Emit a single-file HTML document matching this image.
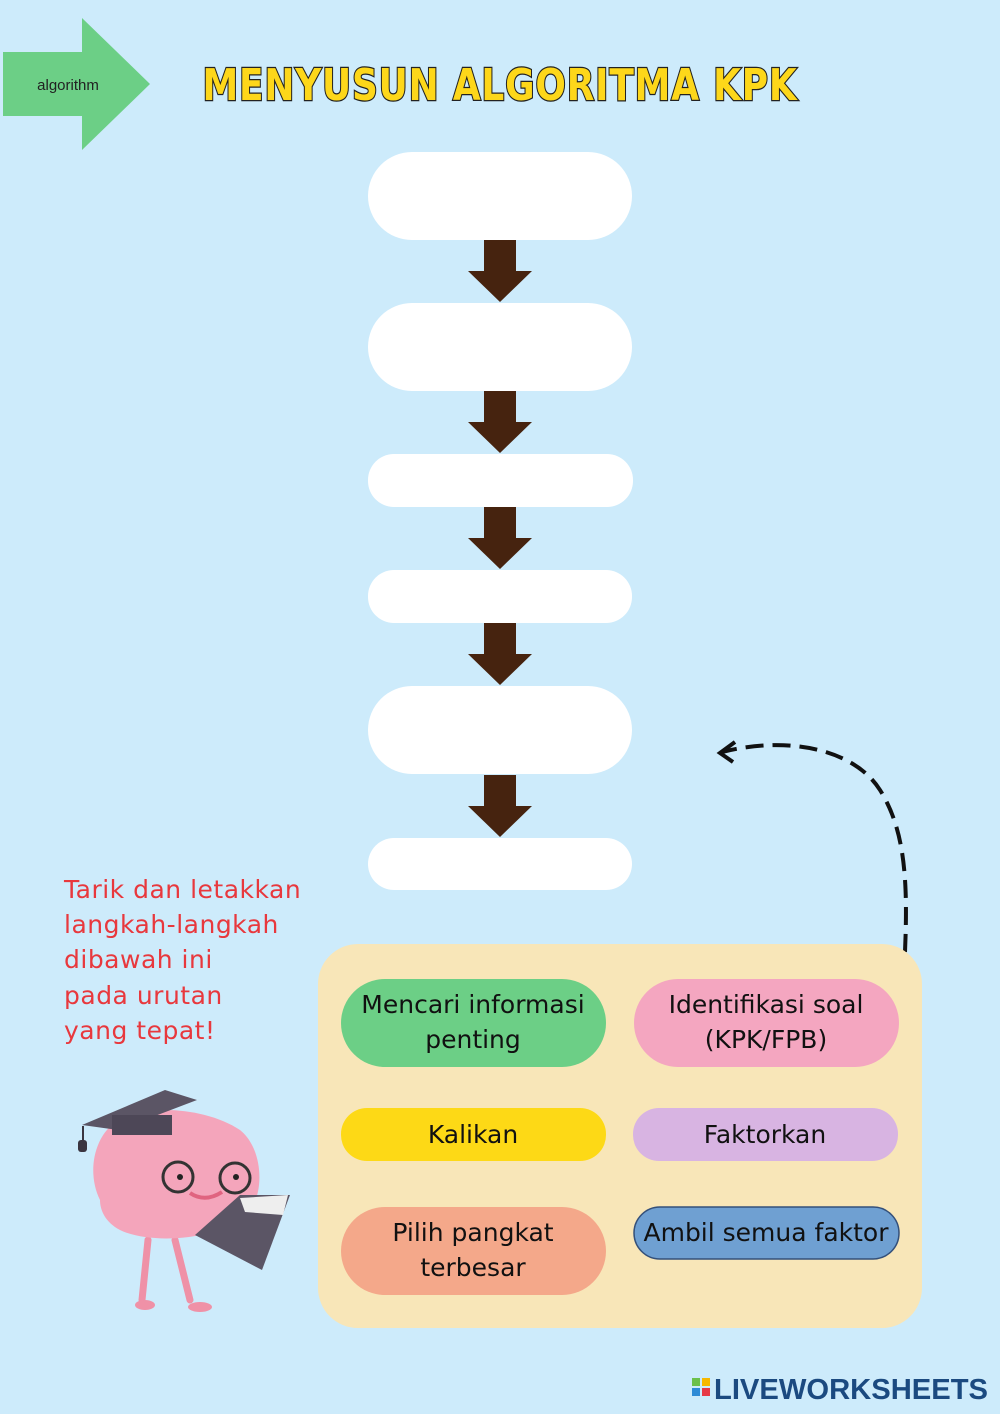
<!DOCTYPE html>
<html><head><meta charset="utf-8"><style>
html,body{margin:0;padding:0;width:1000px;height:1414px;overflow:hidden;background:#cdebfb}
</style></head><body>
<svg width="1000" height="1414" viewBox="0 0 1000 1414" xmlns="http://www.w3.org/2000/svg" font-family="'Liberation Sans', 'DejaVu Sans', sans-serif">
<rect width="1000" height="1414" fill="#cdebfb"/>
<!-- green arrow -->
<polygon points="3,52 82,52 82,18 150,84 82,150 82,116 3,116" fill="#6ccf86"/>
<text x="68" y="90" font-size="15" text-anchor="middle" fill="#222">algorithm</text>
<!-- title -->
<text x="500" y="100" font-size="44" font-weight="bold" text-anchor="middle" fill="#fdd71a" stroke="#222" stroke-width="2.5" paint-order="stroke" font-family="'DejaVu Sans', sans-serif" letter-spacing="1" textLength="595" lengthAdjust="spacingAndGlyphs">MENYUSUN ALGORITMA KPK</text>
<!-- boxes -->
<g fill="#fff">
<rect x="368" y="152" width="264" height="88" rx="44"/>
<rect x="368" y="303" width="264" height="88" rx="44"/>
<rect x="368" y="454" width="265" height="53" rx="26"/>
<rect x="368" y="570" width="264" height="53" rx="26"/>
<rect x="368" y="686" width="264" height="88" rx="44"/>
<rect x="368" y="838" width="264" height="52" rx="26"/>
</g>
<g fill="#46230f">
<path d="M484 240 H516 V271 H532 L500 302 L468 271 H484Z"/>
<path d="M484 391 H516 V422 H532 L500 453 L468 422 H484Z"/>
<path d="M484 507 H516 V538 H532 L500 569 L468 538 H484Z"/>
<path d="M484 623 H516 V654 H532 L500 685 L468 654 H484Z"/>
<path d="M484 775 H516 V806 H532 L500 837 L468 806 H484Z"/>
</g>
<!-- dashed curve -->
<path d="M905 952 C908 880 905 830 880 790 C855 750 790 735 722 752" fill="none" stroke="#111" stroke-width="4" stroke-dasharray="18 9"/>
<path d="M735 742 L720 753 L733 762" fill="none" stroke="#111" stroke-width="4"/>
<!-- instructions -->
<g font-size="25" fill="#e8383d" font-family="'DejaVu Sans', sans-serif" letter-spacing="0.5">
<text x="64" y="898">Tarik dan letakkan</text>
<text x="64" y="933">langkah-langkah</text>
<text x="64" y="968">dibawah ini</text>
<text x="64" y="1004">pada urutan</text>
<text x="64" y="1039">yang tepat!</text>
</g>
<!-- panel -->
<rect x="318" y="944" width="604" height="384" rx="40" fill="#f8e6b8"/>
<rect x="341" y="979" width="265" height="88" rx="44" fill="#6ccf86"/>
<rect x="634" y="979" width="265" height="88" rx="44" fill="#f4a6c0"/>
<rect x="341" y="1108" width="265" height="53" rx="26" fill="#fdd916"/>
<rect x="633" y="1108" width="265" height="53" rx="26" fill="#d8b4e2"/>
<rect x="341" y="1207" width="265" height="88" rx="44" fill="#f4a88a"/>
<rect x="634" y="1207" width="265" height="52" rx="26" fill="#6fa0d2" stroke="#34507a" stroke-width="1.5"/>
<g font-size="25" fill="#111" text-anchor="middle" font-family="'DejaVu Sans', sans-serif">
<text x="473" y="1013">Mencari informasi</text>
<text x="473" y="1048">penting</text>
<text x="766" y="1013">Identifikasi soal</text>
<text x="766" y="1048">(KPK/FPB)</text>
<text x="473" y="1143">Kalikan</text>
<text x="765" y="1143">Faktorkan</text>
<text x="473" y="1241">Pilih pangkat</text>
<text x="473" y="1276">terbesar</text>
<text x="766" y="1241">Ambil semua faktor</text>
</g>
<!-- brain -->
<g>
<path d="M148 1240 L142 1300 M175 1240 L190 1300" stroke="#ef91a7" stroke-width="7" fill="none" stroke-linecap="round"/>
<ellipse cx="145" cy="1305" rx="10" ry="5" fill="#ef91a7"/><ellipse cx="200" cy="1307" rx="12" ry="5" fill="#ef91a7"/>
<path d="M100 1200 C85 1170 95 1125 130 1115 C160 1105 210 1110 240 1130 C265 1150 265 1200 245 1215 C220 1240 150 1245 120 1230 C105 1222 100 1210 100 1200Z" fill="#f4a5bb"/>
<circle cx="178" cy="1177" r="15" fill="none" stroke="#333" stroke-width="3"/>
<circle cx="235" cy="1178" r="15" fill="none" stroke="#333" stroke-width="3"/>
<circle cx="180" cy="1177" r="3" fill="#222"/><circle cx="236" cy="1177" r="3" fill="#222"/>
<path d="M190 1193 Q205 1203 222 1192" stroke="#e06480" stroke-width="4" fill="none"/>
<polygon points="82,1125 165,1090 197,1100 118,1130" fill="#5b5565"/>
<rect x="112" y="1115" width="60" height="20" fill="#4d4757"/>
<line x1="83" y1="1126" x2="83" y2="1142" stroke="#3a3540" stroke-width="2"/><rect x="78" y="1140" width="9" height="12" rx="3" fill="#3a3540"/>
<polygon points="195,1235 240,1195 290,1195 262,1270" fill="#5b5565"/>
<polygon points="240,1198 288,1195 283,1215 245,1212" fill="#eee"/>
</g>
<!-- logo -->
<rect x="692" y="1378" width="8" height="8" fill="#6cc04a"/><rect x="702" y="1378" width="8" height="8" fill="#f6b800"/>
<rect x="692" y="1388" width="8" height="8" fill="#2e8bd6"/><rect x="702" y="1388" width="8" height="8" fill="#e63946"/>
<text x="714" y="1399" font-size="29" font-weight="bold" fill="#1b4a80" textLength="274" lengthAdjust="spacingAndGlyphs">LIVEWORKSHEETS</text>
</svg>
</body></html>
